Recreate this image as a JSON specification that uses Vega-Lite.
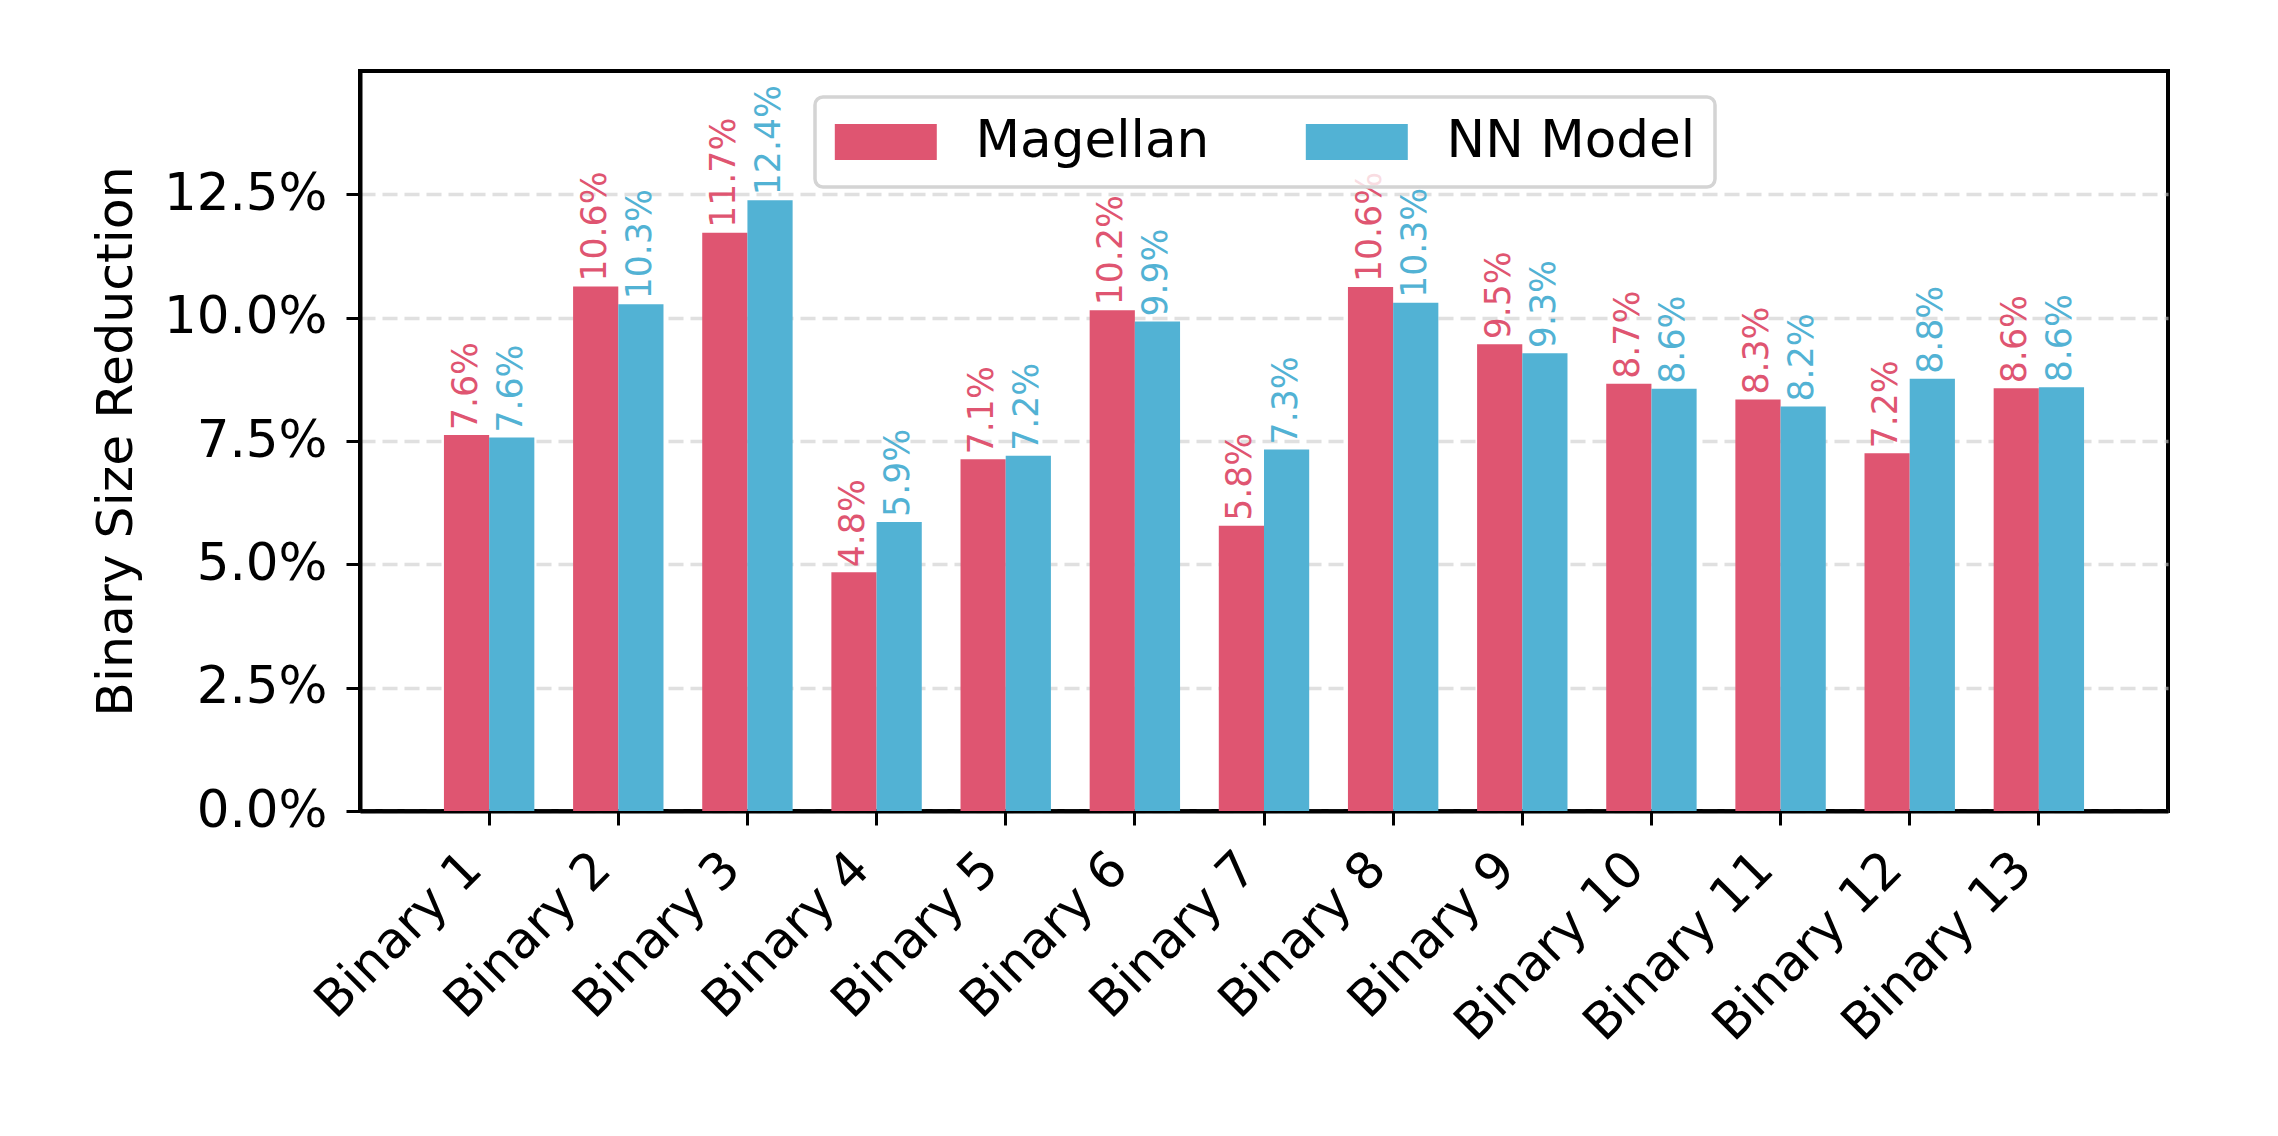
{
  "$schema": "https://vega.github.io/schema/vega-lite/v6.json",
  "width": 1808,
  "height": 740,
  "autosize": {"type": "none"},
  "padding": {"left": 360, "top": 71, "right": 110, "bottom": 325},
  "background": "white",
  "config": {
    "font": "DejaVu Sans",
    "view": {"stroke": "black", "strokeWidth": 4},
    "axis": {
      "labelFont": "DejaVu Sans",
      "labelFontSize": 51.5,
      "labelColor": "black",
      "labelLimit": 0,
      "titleFont": "DejaVu Sans",
      "titleFontSize": 50.5,
      "titleFontWeight": "normal",
      "titleColor": "black",
      "domainColor": "black",
      "domainWidth": 4,
      "tickColor": "black",
      "tickSize": 14,
      "tickWidth": 3,
      "zindex": 1
    }
  },
  "data": {
    "values": [
      {"binary": "Binary 1", "model": "Magellan", "value": 0.0762},
      {"binary": "Binary 1", "model": "NN Model", "value": 0.0757},
      {"binary": "Binary 2", "model": "Magellan", "value": 0.1063},
      {"binary": "Binary 2", "model": "NN Model", "value": 0.1027},
      {"binary": "Binary 3", "model": "Magellan", "value": 0.1172},
      {"binary": "Binary 3", "model": "NN Model", "value": 0.1238},
      {"binary": "Binary 4", "model": "Magellan", "value": 0.0484},
      {"binary": "Binary 4", "model": "NN Model", "value": 0.0586},
      {"binary": "Binary 5", "model": "Magellan", "value": 0.0713},
      {"binary": "Binary 5", "model": "NN Model", "value": 0.0720},
      {"binary": "Binary 6", "model": "Magellan", "value": 0.1015},
      {"binary": "Binary 6", "model": "NN Model", "value": 0.0992},
      {"binary": "Binary 7", "model": "Magellan", "value": 0.0578},
      {"binary": "Binary 7", "model": "NN Model", "value": 0.0733},
      {"binary": "Binary 8", "model": "Magellan", "value": 0.1062},
      {"binary": "Binary 8", "model": "NN Model", "value": 0.1030},
      {"binary": "Binary 9", "model": "Magellan", "value": 0.0946},
      {"binary": "Binary 9", "model": "NN Model", "value": 0.0928},
      {"binary": "Binary 10", "model": "Magellan", "value": 0.0866},
      {"binary": "Binary 10", "model": "NN Model", "value": 0.0856},
      {"binary": "Binary 11", "model": "Magellan", "value": 0.0834},
      {"binary": "Binary 11", "model": "NN Model", "value": 0.0820},
      {"binary": "Binary 12", "model": "Magellan", "value": 0.0725},
      {"binary": "Binary 12", "model": "NN Model", "value": 0.0876},
      {"binary": "Binary 13", "model": "Magellan", "value": 0.0857},
      {"binary": "Binary 13", "model": "NN Model", "value": 0.0859}
    ]
  },
  "encoding": {
    "x": {
      "field": "binary",
      "type": "nominal",
      "sort": null,
      "scale": {"paddingInner": 0.3, "paddingOuter": 0.65},
      "axis": {
        "title": null,
        "grid": false,
        "labelAngle": -45,
        "labelAlign": "right",
        "labelBaseline": "top",
        "labelOffset": -33,
        "labelPadding": 18,
        "labelFontSize": 50.5
      }
    },
    "xOffset": {
      "field": "model",
      "type": "nominal",
      "scale": {"domain": ["Magellan", "NN Model"], "paddingInner": 0, "paddingOuter": 0}
    },
    "y": {
      "field": "value",
      "type": "quantitative",
      "scale": {"domain": [0, 0.15], "nice": false},
      "axis": {
        "title": "Binary Size Reduction",
        "values": [0, 0.025, 0.05, 0.075, 0.1, 0.125],
        "format": ".1%",
        "labelPadding": 19,
        "titlePadding": 21,
        "grid": true,
        "gridColor": "#cccccc",
        "gridOpacity": 0.6,
        "gridWidth": 3.5,
        "gridDash": [15, 7]
      }
    },
    "color": {
      "field": "model",
      "type": "nominal",
      "scale": {"domain": ["Magellan", "NN Model"], "range": ["#DF5571", "#52B2D4"]},
      "legend": {
        "title": null,
        "orient": "none",
        "legendX": 455,
        "legendY": 26,
        "direction": "horizontal",
        "columns": 2,
        "symbolType": "M-2.833,-1L2.833,-1L2.833,1L-2.833,1Z",
        "symbolSize": 1296,
        "symbolOffset": 26,
        "symbolStrokeWidth": 0,
        "symbolOpacity": 1,
        "labelOffset": 64,
        "columnPadding": 95,
        "labelFont": "DejaVu Sans",
        "labelFontSize": 51.6,
        "labelColor": "black",
        "labelLimit": 0,
        "padding": 19,
        "fillColor": "rgba(255,255,255,0.8)",
        "strokeColor": "#d4d4d4",
        "cornerRadius": 8,
        "encode": {"legend": {"update": {"strokeWidth": {"value": 3.5}}}}
      }
    }
  },
  "layer": [
    {"mark": {"type": "bar"}},
    {
      "mark": {"type": "text", "angle": 270, "align": "left", "baseline": "middle", "dx": 5, "fontSize": 34.7, "font": "DejaVu Sans"},
      "encoding": {"text": {"field": "value", "type": "quantitative", "format": ".1%"}}
    }
  ]
}
